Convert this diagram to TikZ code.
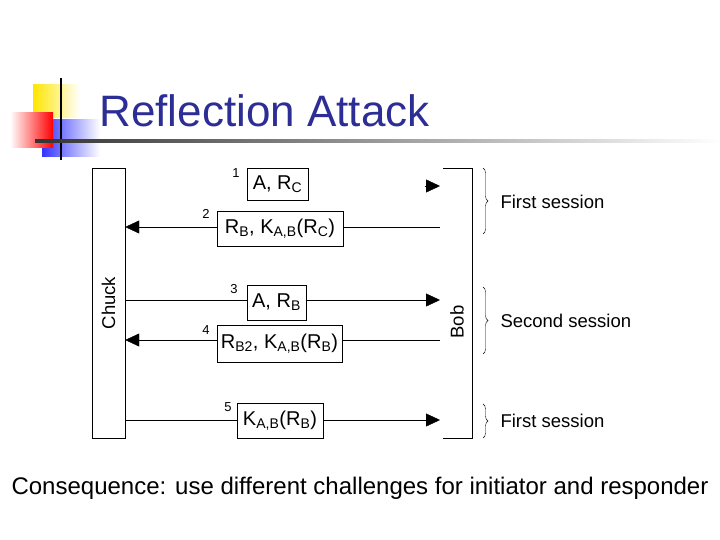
\documentclass[tikz,border=0pt]{standalone}
\usepackage{fontspec}
\setmainfont{Liberation Sans}
\usetikzlibrary{arrows.meta, decorations.pathreplacing}
\definecolor{titleblue}{RGB}{45,45,150}
\begin{document}
\begin{tikzpicture}[x=1pt, y=-1pt,
  msg/.style = {draw, inner sep=0pt, font=\fontsize{20}{20}\selectfont},
  num/.style = {font=\fontsize{13}{13}\selectfont, inner sep=1pt},
  flow/.style = {-{Triangle[length=14pt, width=13pt]}, thin},
  sess/.style = {font=\fontsize{18.5}{18.5}\selectfont, anchor=west}]
  \useasboundingbox (0,0) rectangle (720,540);
  % logo
  \shade[left color=yellow!80!orange, right color=white] (33,85) rectangle (80,118);
  \shade[left color=blue!80, right color=white] (42,120) rectangle (100,157);
  \shade[left color=white, right color=red] (10,113) rectangle (53,148);
  \draw[line width=1.5pt] (61,78) -- (61,160);
  \shade[left color=black!80, right color=white] (35,140) rectangle (720,142.5);
  \node[anchor=west, text=titleblue, font=\fontsize{44}{44}\selectfont] (title) at (96,111) {Reflection Attack};
  % parties
  \node[draw, minimum width=33pt, minimum height=270pt, inner sep=0pt] (chuck) at (108.5,303) {};
  \node[rotate=90, font=\fontsize{18.5}{18.5}\selectfont] at (chuck) {Chuck};
  \draw (443,168) -- (472,168) -- (472,438) -- (443,438);
  \node[rotate=90, font=\fontsize{18.5}{18.5}\selectfont] (bob) at (457,322) {Bob};
  \coordinate (b1) at (440,186);
  \coordinate (b2) at (440,227);
  \coordinate (b3) at (440,300);
  \coordinate (b4) at (440,340);
  \coordinate (b5) at (440,420);
  % messages
  \draw[flow] (425,186) -- (b1);
  \draw[flow] (b2) -- (chuck.east |- b2);
  \draw[flow] (chuck.east |- b3) -- (b3);
  \draw[flow] (b4) -- (chuck.east |- b4);
  \draw[flow] (chuck.east |- b5) -- (b5);
  \node[msg, fill=white, minimum width=61pt, minimum height=32pt] (m1) at (277.5,184) {A, R\textsubscript{C}};
  \node[msg, fill=white, minimum width=126pt, minimum height=35pt] (m2) at (280,228.5) {R\textsubscript{B}, K\textsubscript{A,B}(R\textsubscript{C})};
  \node[msg, fill=white, minimum width=59pt, minimum height=35pt] (m3) at (276.5,302.5) {A, R\textsubscript{B}};
  \node[msg, fill=white, minimum width=125pt, minimum height=37pt] (m4) at (279.5,343.5) {R\textsubscript{B2}, K\textsubscript{A,B}(R\textsubscript{B})};
  \node[msg, fill=white, minimum width=86pt, minimum height=35pt] (m5) at (280,420.5) {K\textsubscript{A,B}(R\textsubscript{B})};
  \node[num] at (236,173) {1};
  \node[num] at (206,214) {2};
  \node[num] at (234,289) {3};
  \node[num] at (206,330) {4};
  \node[num] at (228,407) {5};
  % sessions
  \draw[decorate, decoration={brace, amplitude=5pt}] (483,168) -- (483,234);
  \draw[decorate, decoration={brace, amplitude=5pt}] (483,287) -- (483,354);
  \draw[decorate, decoration={brace, amplitude=5pt}] (483,404) -- (483,438);
  \node[sess] (s1) at (497,202) {First session};
  \node[sess] (s2) at (497,321) {Second session};
  \node[sess] (s3) at (497,421) {First session};
  \node[font=\fontsize{24}{24}\selectfont] (cons) at (360,488) {Consequence: use different challenges for initiator and responder};
\end{tikzpicture}
\end{document}
